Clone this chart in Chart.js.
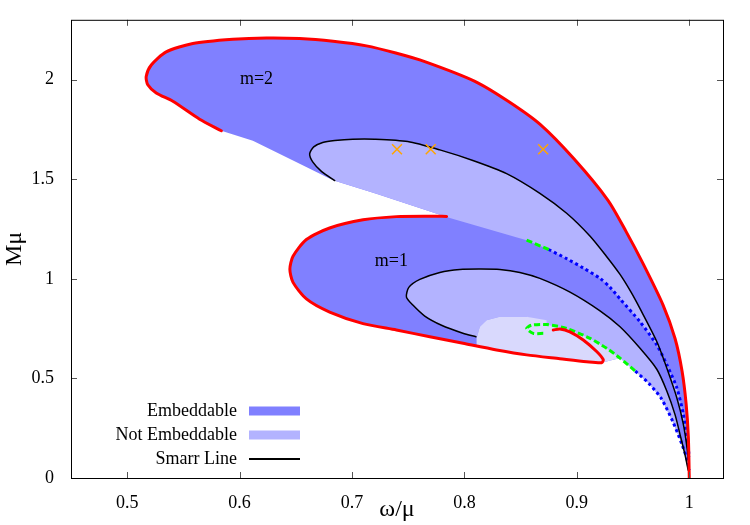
<!DOCTYPE html>
<html>
<head>
<meta charset="utf-8">
<title>Embeddable regions</title>
<script src="https://cdn.jsdelivr.net/npm/chart.js@4.4.0/dist/chart.umd.min.js"></script>
<style>
  body { margin: 0; background: #fff; }
</style>
</head>
<body>
<canvas id="chart" width="750" height="525"></canvas>
<script>
// tick values
var xTicks = [0.5, 0.6, 0.7, 0.8, 0.9, 1];
var yTicks = [0, 0.5, 1, 1.5, 2];

// m=2 curves, points are [omega/mu, M mu]
var m2Outer = [[0.5837,1.743],[0.5644,1.801],[0.5406,1.891],[0.5258,1.933],[0.5183,1.974],[0.5169,2.015],
  [0.5214,2.073],[0.5347,2.139],[0.5584,2.181],[0.5940,2.202],[0.6238,2.209],[0.6534,2.206],[0.6831,2.192],
  [0.7128,2.169],[0.7389,2.133],[0.7647,2.090],[0.8093,1.991],[0.8389,1.891],[0.8671,1.776],[0.8974,1.602],
  [0.9277,1.394],[0.9437,1.238],[0.9589,1.076],[0.9767,0.868],[0.9874,0.699],[0.9936,0.536],[0.9972,0.372],
  [0.9992,0.203],[1.0,0.0]];
var m2Edge = [[0.5837,1.743],[0.6118,1.693],[0.6534,1.577],[0.6831,1.495],[0.7202,1.429],[0.787,1.305],[0.8553,1.194]];
var m2Dashed = [[0.8553,1.194],[0.8749,1.147]];
var m2Dotted = [[0.8749,1.147],[0.8909,1.101],[0.9057,1.054],[0.9206,1.002],[0.9295,0.957],[0.9384,0.899],
  [0.9562,0.784],[0.9711,0.668],[0.980,0.569],[0.9889,0.453],[0.9947,0.321],[0.9978,0.205],[1.0,0.106]];
var m2Smarr = [[0.6846,1.493],[0.6730,1.538],[0.6650,1.587],[0.6623,1.627],[0.6659,1.662],[0.6739,1.684],
  [0.6846,1.694],[0.7006,1.701],[0.7202,1.701],[0.7496,1.689],[0.7781,1.647],[0.8075,1.594],[0.8375,1.528],
  [0.8671,1.429],[0.8909,1.329],[0.9116,1.215],[0.9259,1.116],[0.9384,1.022],[0.9482,0.933],[0.9562,0.850],
  [0.9711,0.685],[0.980,0.552],[0.9889,0.403],[0.9947,0.271],[0.9983,0.139],[1.0,0.04]];

// m=1 curves
var m1Outer = [[0.7841,1.313],[0.7692,1.314],[0.7395,1.312],[0.7098,1.296],[0.6801,1.255],[0.6594,1.197],
  [0.6475,1.113],[0.6447,1.048],[0.6475,0.982],[0.6594,0.899],[0.6801,0.833],[0.7098,0.775],[0.7395,0.743],
  [0.7692,0.709],[0.7988,0.676],[0.8286,0.643],[0.8553,0.618],[0.8849,0.599],[0.9087,0.584],[0.9221,0.579]];
var m1Spiral = [[0.9221,0.579],[0.9235,0.594],[0.9176,0.635],[0.9057,0.693],[0.8938,0.734],[0.8849,0.748],[0.8790,0.743]];
var m1Dashed = [[0.8701,0.726],[0.8612,0.726],[0.8553,0.751],[0.8597,0.767],[0.8731,0.770],[0.8909,0.751],
  [0.9117,0.701],[0.9265,0.651],[0.9384,0.602],[0.952,0.536]];
var m1Dotted = [[0.952,0.536],[0.964,0.475],[0.975,0.400],[0.9856,0.280],[0.9933,0.172],[0.9983,0.089],[1.0,0.04]];
var m1Smarr = [[0.8102,0.709],[0.7986,0.727],[0.7796,0.767],[0.7647,0.813],[0.7541,0.868],[0.7484,0.908],
  [0.7505,0.957],[0.7603,0.997],[0.7781,1.032],[0.7959,1.047],[0.8137,1.049],[0.8315,1.047],[0.8493,1.032],
  [0.8671,1.002],[0.8939,0.933],[0.9206,0.839],[0.9384,0.759],[0.9562,0.651],[0.9711,0.546],[0.9800,0.437],
  [0.9874,0.317],[0.9918,0.218],[0.9963,0.114],[0.9990,0.04]];
// part of m=1 that runs underneath the m=2 band
var m1Under = [[0.83,1.30],[0.88,1.22],[0.92,1.10],[0.95,0.95],[0.975,0.75],[0.99,0.50],[0.999,0.20],[1.0,0.04]];
// border of the pale patch round the m=1 spiral
var m1PaleEdge = [[0.8108,0.665],[0.8108,0.701],[0.8137,0.759],[0.8197,0.792],[0.8315,0.809],[0.8553,0.809],[0.8731,0.792]];

var crosses = [[0.74,1.65],[0.77,1.65],[0.87,1.65]];
var regionLabels = [['m=2', 0.615, 2.0], ['m=1', 0.735, 1.09]];
var legendLabels = ['Embeddable', 'Not Embeddable', 'Smarr Line'];

var dark = '#8080ff', light = '#b3b3ff', pale = '#d9d9fd';

function pts(a) { return a.map(function(p) { return {x: p[0], y: p[1]}; }); }
function rev(a) { return a.slice().reverse(); }

function curve(a, color, width, dash) {
  return {data: pts(a), borderColor: color, borderWidth: width, borderDash: dash || [],
    borderCapStyle: dash ? 'butt' : 'round', pointRadius: 0, fill: false, tension: 0.25};
}
function area(a, color) {
  return {data: pts(a), borderColor: 'rgba(0,0,0,0)', borderWidth: 1, backgroundColor: color,
    pointRadius: 0, fill: 'shape', tension: 0};
}

// polygons built from the curves above
var m2DarkPoly = m2Outer.concat(rev(m2Dotted), rev(m2Dashed), rev(m2Edge));
var m2LightPoly = m2Smarr.concat(rev(m2Dotted), rev(m2Dashed), rev(m2Edge.filter(function(p) { return p[0] >= 0.683; })));
var m1DarkPoly = m1Outer.concat([[0.9384,0.602]], m1Dotted, rev(m1Under));
var m1LightPoly = m1Smarr.concat(rev(m1Dotted), rev(m1Dashed.slice(4)), rev(m1PaleEdge).slice(1, 6));
var m1PalePoly = m1PaleEdge.concat(m1Dashed.slice(4, 9), rev(m1Outer.slice(15)));

// first dataset is drawn on top
var datasets = [
  {data: pts(crosses), showLine: false, pointStyle: 'crossRot', pointRadius: 7,
    pointBorderColor: '#ffa500', pointBorderWidth: 1.5, borderColor: '#ffa500'},
  curve(m2Outer, '#ff0000', 3),
  curve(m2Smarr, '#000000', 1.5),
  curve(m2Dashed, '#00ff00', 3, [6, 3]),
  curve(m2Dotted, '#0000ff', 3, [3, 3]),
  curve(m1Outer.concat(m1Spiral.slice(1)), '#ff0000', 3),
  curve(m1Smarr, '#000000', 1.5),
  curve(m1Dashed, '#00ff00', 3, [6, 3]),
  curve(m1Dotted, '#0000ff', 3, [3, 3]),
  area(m2LightPoly, light),
  area(m2DarkPoly, dark),
  area(m1PalePoly, pale),
  area(m1LightPoly, light),
  area(m1DarkPoly, dark)
];

// frame, inward ticks, region labels and legend
var extras = {
  id: 'extras',
  afterDatasetsDraw: function(chart) {
    var ctx = chart.ctx, a = chart.chartArea, sx = chart.scales.x, sy = chart.scales.y;
    ctx.save();
    ctx.strokeStyle = '#555';
    ctx.lineWidth = 1;
    ctx.beginPath();
    xTicks.forEach(function(v) {
      var px = Math.round(sx.getPixelForValue(v)) + 0.5;
      ctx.moveTo(px, a.bottom); ctx.lineTo(px, a.bottom - 6);
      ctx.moveTo(px, a.top); ctx.lineTo(px, a.top + 6);
    });
    yTicks.forEach(function(v) {
      var py = Math.round(sy.getPixelForValue(v)) + 0.5;
      ctx.moveTo(a.left, py); ctx.lineTo(a.left + 6, py);
      ctx.moveTo(a.right, py); ctx.lineTo(a.right - 6, py);
    });
    ctx.stroke();
    ctx.strokeStyle = '#000';
    ctx.strokeRect(a.left + 0.5, a.top + 0.5, a.right - a.left, a.bottom - a.top);

    ctx.fillStyle = '#000';
    ctx.font = "18px 'Liberation Serif', serif";
    ctx.textAlign = 'center';
    ctx.textBaseline = 'middle';
    regionLabels.forEach(function(l) {
      ctx.fillText(l[0], sx.getPixelForValue(l[1]), sy.getPixelForValue(l[2]));
    });

    var tx = a.left + 166, sx0 = a.left + 178, sx1 = a.left + 229;
    var rows = [a.bottom - 67, a.bottom - 43, a.bottom - 19];
    ctx.textAlign = 'right';
    legendLabels.forEach(function(t, i) {
      ctx.fillStyle = '#000';
      ctx.fillText(t, tx, rows[i]);
      if (i === 0 || i === 1) {
        ctx.fillStyle = i === 0 ? dark : light;
        ctx.fillRect(sx0, rows[i] - 4.5, sx1 - sx0, 9);
      } else {
        ctx.strokeStyle = '#000';
        ctx.lineWidth = 2;
        ctx.beginPath();
        ctx.moveTo(sx0, rows[i]); ctx.lineTo(sx1, rows[i]);
        ctx.stroke();
      }
    });
    ctx.restore();
  }
};

Chart.defaults.font.family = "'Liberation Serif', 'Times New Roman', serif";
Chart.defaults.color = '#000';

new Chart(document.getElementById('chart').getContext('2d'), {
  type: 'line',
  data: {datasets: datasets},
  options: {
    responsive: false,
    animation: false,
    events: [],
    layout: {padding: {top: 14, right: 27, bottom: 0, left: 0}},
    plugins: {legend: {display: false}, tooltip: {enabled: false}},
    scales: {
      x: {
        type: 'linear', min: 0.45, max: 1.03,
        afterBuildTicks: function(s) { s.ticks = xTicks.map(function(v) { return {value: v}; }); },
        afterFit: function(s) { s.height = 47; },
        grid: {display: false},
        border: {display: false},
        ticks: {padding: 6, font: {size: 18}, maxRotation: 0, autoSkip: false,
          callback: function(v) { return String(v); }},
        title: {display: true, text: 'ω/μ', font: {size: 24}, padding: {top: 0, bottom: 1}}
      },
      y: {
        type: 'linear', min: 0, max: 2.3,
        afterBuildTicks: function(s) { s.ticks = yTicks.map(function(v) { return {value: v}; }); },
        afterFit: function(s) { s.width = 71; },
        grid: {display: false},
        border: {display: false},
        ticks: {padding: 9, font: {size: 18}, autoSkip: false,
          callback: function(v) { return String(v); }},
        title: {display: true, text: 'Mμ', font: {size: 24}, padding: {top: 0, bottom: 0}}
      }
    }
  },
  plugins: [extras]
});
</script>
</body>
</html>
